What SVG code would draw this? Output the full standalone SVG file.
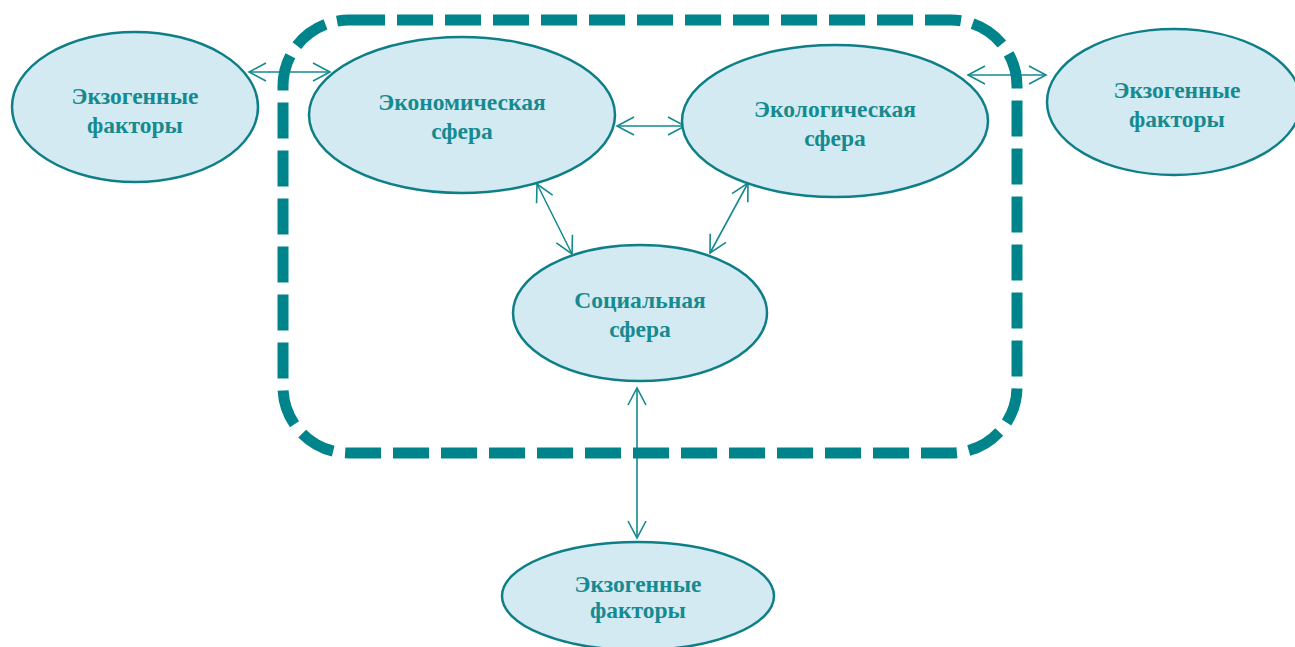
<svg xmlns="http://www.w3.org/2000/svg" width="1295" height="647" viewBox="0 0 1295 647">
<style>
.node{fill:#d3eaf2;stroke:#0e7f87;stroke-width:2.5}
.lbl{font-family:"Liberation Serif","Times New Roman",serif;font-weight:bold;font-size:23.5px;fill:#168a90;text-anchor:middle}
.conn{stroke:#138a8f;stroke-width:1.6;fill:none}
.border{fill:none;stroke:#00848b;stroke-width:11;stroke-dasharray:36 12}
</style>
<defs>
<marker id="ah" markerUnits="userSpaceOnUse" markerWidth="20" markerHeight="22" viewBox="-1 -1 20 22" refX="17" refY="10" orient="auto-start-reverse">
<path d="M0,1 L17,10 L0,19" fill="none" stroke="#138a8f" stroke-width="1.6"/>
</marker>
</defs>
<rect width="1295" height="647" fill="#ffffff"/>
<g id="connectors">
<line class="conn" x1="249" y1="72" x2="330" y2="72" marker-start="url(#ah)" marker-end="url(#ah)"/>
<line class="conn" x1="617" y1="126" x2="685" y2="126" marker-start="url(#ah)" marker-end="url(#ah)"/>
<line class="conn" x1="968" y1="75" x2="1046" y2="75" marker-start="url(#ah)" marker-end="url(#ah)"/>
<line class="conn" x1="537" y1="184" x2="572" y2="254" marker-start="url(#ah)" marker-end="url(#ah)"/>
<line class="conn" x1="748" y1="183" x2="710" y2="253" marker-start="url(#ah)" marker-end="url(#ah)"/>
<line class="conn" x1="637" y1="388" x2="637" y2="538" marker-start="url(#ah)" marker-end="url(#ah)"/>
</g>
<g id="boundary">
<rect class="border" x="283" y="20" width="734" height="433" rx="66" ry="66"/>
</g>
<g id="exo-left">
<ellipse class="node" cx="135" cy="107" rx="123" ry="75"/>
<text class="lbl" x="135" y="104">Экзогенные</text>
<text class="lbl" x="135" y="133">факторы</text>
</g>
<g id="econ">
<ellipse class="node" cx="462" cy="115" rx="153" ry="78"/>
<text class="lbl" x="462" y="110">Экономическая</text>
<text class="lbl" x="462" y="139">сфера</text>
</g>
<g id="eco">
<ellipse class="node" cx="835" cy="121" rx="153" ry="76"/>
<text class="lbl" x="835" y="117">Экологическая</text>
<text class="lbl" x="835" y="146">сфера</text>
</g>
<g id="exo-right">
<ellipse class="node" cx="1174" cy="102" rx="127" ry="73"/>
<text class="lbl" x="1177" y="98">Экзогенные</text>
<text class="lbl" x="1177" y="127">факторы</text>
</g>
<g id="social">
<ellipse class="node" cx="640" cy="313" rx="127" ry="68"/>
<text class="lbl" x="640" y="308">Социальная</text>
<text class="lbl" x="640" y="337">сфера</text>
</g>
<g id="exo-bottom">
<ellipse class="node" cx="638" cy="596" rx="136" ry="54"/>
<text class="lbl" x="638" y="592">Экзогенные</text>
<text class="lbl" x="638" y="618">факторы</text>
</g>
</svg>
